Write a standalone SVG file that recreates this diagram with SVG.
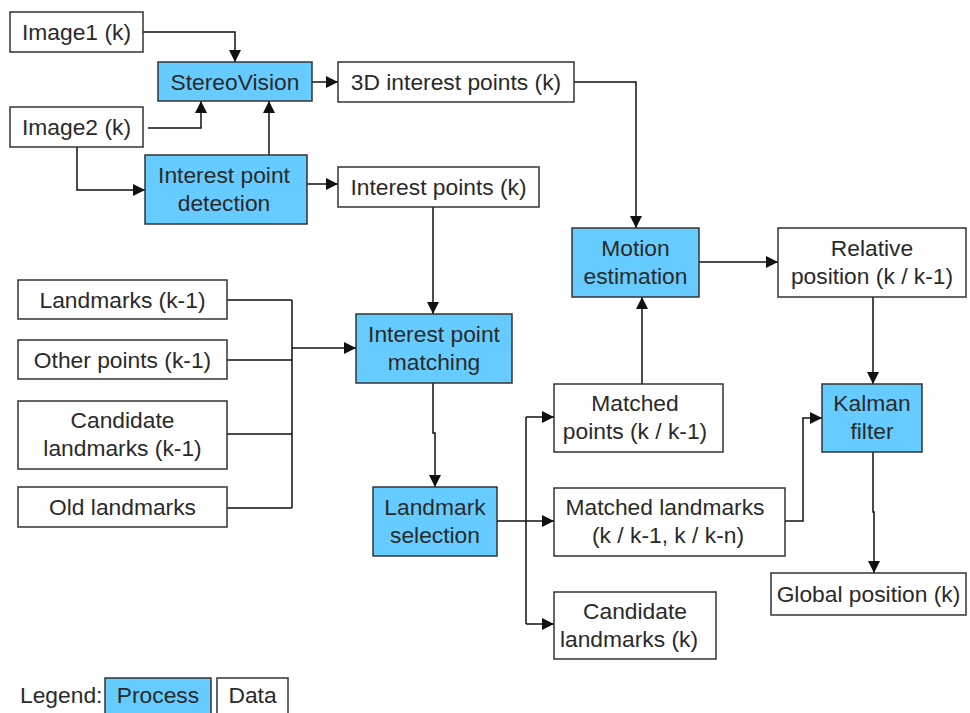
<svg xmlns="http://www.w3.org/2000/svg" width="970" height="713" viewBox="0 0 970 713">
<defs>
<marker id="ah" viewBox="0 0 12 12" refX="12" refY="6" markerWidth="12" markerHeight="12" markerUnits="userSpaceOnUse" orient="auto">
<path d="M0,0 L12,6 L0,12 Z" fill="#111"/>
</marker>
<style>
.p{fill:#66CCFF;stroke:#333;stroke-width:1.5}
.d{fill:#fff;stroke:#333;stroke-width:1.5}
text{font-family:"Liberation Sans",Arial,sans-serif;font-size:22.8px;fill:#2a2a2a;text-anchor:middle}
.c path{fill:none;stroke:#111;stroke-width:1.5}
.a{marker-end:url(#ah)}
</style>
</defs>
<rect x="0" y="0" width="970" height="713" fill="#fff"/>
<g class="c" id="connectors">
<path class="a" d="M143,32 H235 V62"/>
<path class="a" d="M148,128 H201 V101"/>
<path class="a" d="M269,155 V101"/>
<path class="a" d="M77,147 V190 H145"/>
<path class="a" d="M312,82 H338"/>
<path class="a" d="M307,184 H338"/>
<path class="a" d="M574,82 H636 V228"/>
<path class="a" d="M699,262 H778"/>
<path class="a" d="M873,297 V384"/>
<path class="a" d="M642,384 V297"/>
<path d="M227,300 H292 M227,360 H292 M227,434 H292 M227,508 H292 M292,300 V508"/>
<path class="a" d="M292,348 H356"/>
<path class="a" d="M433,207 V314"/>
<path class="a" d="M433,383 V433 H435 V487"/>
<path class="a" d="M497,521 H554"/>
<path d="M526,417 V624"/>
<path class="a" d="M526,417 H554"/>
<path class="a" d="M526,624 H554"/>
<path class="a" d="M785,521 H803 V418 H822"/>
<path class="a" d="M873,452 V512 H874 V573"/>
</g>
<g id="image1"><rect class="d" x="10" y="12" width="133" height="40"/><text x="76.5" y="40">Image1 (k)</text></g>
<g id="stereovision"><rect class="p" x="158" y="62" width="154" height="39"/><text x="235" y="89.5">StereoVision</text></g>
<g id="image2"><rect class="d" x="10" y="107" width="133" height="40"/><text x="76.5" y="135">Image2 (k)</text></g>
<g id="detection"><rect class="p" x="145" y="155" width="162" height="69"/><text x="224" y="183">Interest point</text><text x="224" y="211">detection</text></g>
<g id="points3d"><rect class="d" x="338" y="62" width="236" height="40"/><text x="456" y="90">3D interest points (k)</text></g>
<g id="interestpoints"><rect class="d" x="338" y="167" width="201" height="40"/><text x="438.5" y="195">Interest points (k)</text></g>
<g id="motion"><rect class="p" x="572" y="228" width="127" height="69"/><text x="635.5" y="255.5">Motion</text><text x="635.5" y="283.5">estimation</text></g>
<g id="relative"><rect class="d" x="778" y="228" width="188" height="69"/><text x="872" y="255.5">Relative</text><text x="872" y="283.5">position (k / k-1)</text></g>
<g id="landmarks"><rect class="d" x="18" y="280" width="209" height="39"/><text x="122.5" y="307.5">Landmarks (k-1)</text></g>
<g id="otherpoints"><rect class="d" x="18" y="340" width="209" height="39"/><text x="122.5" y="367.5">Other points (k-1)</text></g>
<g id="candidatesprev"><rect class="d" x="18" y="401" width="209" height="68"/><text x="122.5" y="428">Candidate</text><text x="122.5" y="456">landmarks (k-1)</text></g>
<g id="oldlandmarks"><rect class="d" x="18" y="487" width="209" height="40"/><text x="122.5" y="515">Old landmarks</text></g>
<g id="matching"><rect class="p" x="356" y="314" width="156" height="69"/><text x="434" y="341.5">Interest point</text><text x="434" y="369.5">matching</text></g>
<g id="selection"><rect class="p" x="373" y="487" width="124" height="69"/><text x="435" y="514.5">Landmark</text><text x="435" y="542.5">selection</text></g>
<g id="matchedpoints"><rect class="d" x="554" y="384" width="169" height="68"/><text x="635" y="411">Matched</text><text x="635" y="439">points (k / k-1)</text></g>
<g id="matchedlandmarks"><rect class="d" x="554" y="488" width="231" height="68"/><text x="665" y="515">Matched landmarks</text><text x="668" y="543">(k / k-1, k / k-n)</text></g>
<g id="candidates"><rect class="d" x="554" y="592" width="162" height="67"/><text x="635" y="618.5">Candidate</text><text x="629" y="646.5">landmarks (k)</text></g>
<g id="kalman"><rect class="p" x="822" y="384" width="100" height="68"/><text x="872" y="411">Kalman</text><text x="872" y="439">filter</text></g>
<g id="global"><rect class="d" x="771" y="573" width="195" height="42"/><text x="868.5" y="601.5">Global position (k)</text></g>
<g id="legend">
<text x="20" y="703" style="text-anchor:start">Legend:</text>
<rect class="p" x="105" y="678" width="106" height="40"/><text x="158" y="703">Process</text>
<rect class="d" x="217" y="678" width="71" height="40"/><text x="252.5" y="703">Data</text>
</g>
</svg>
